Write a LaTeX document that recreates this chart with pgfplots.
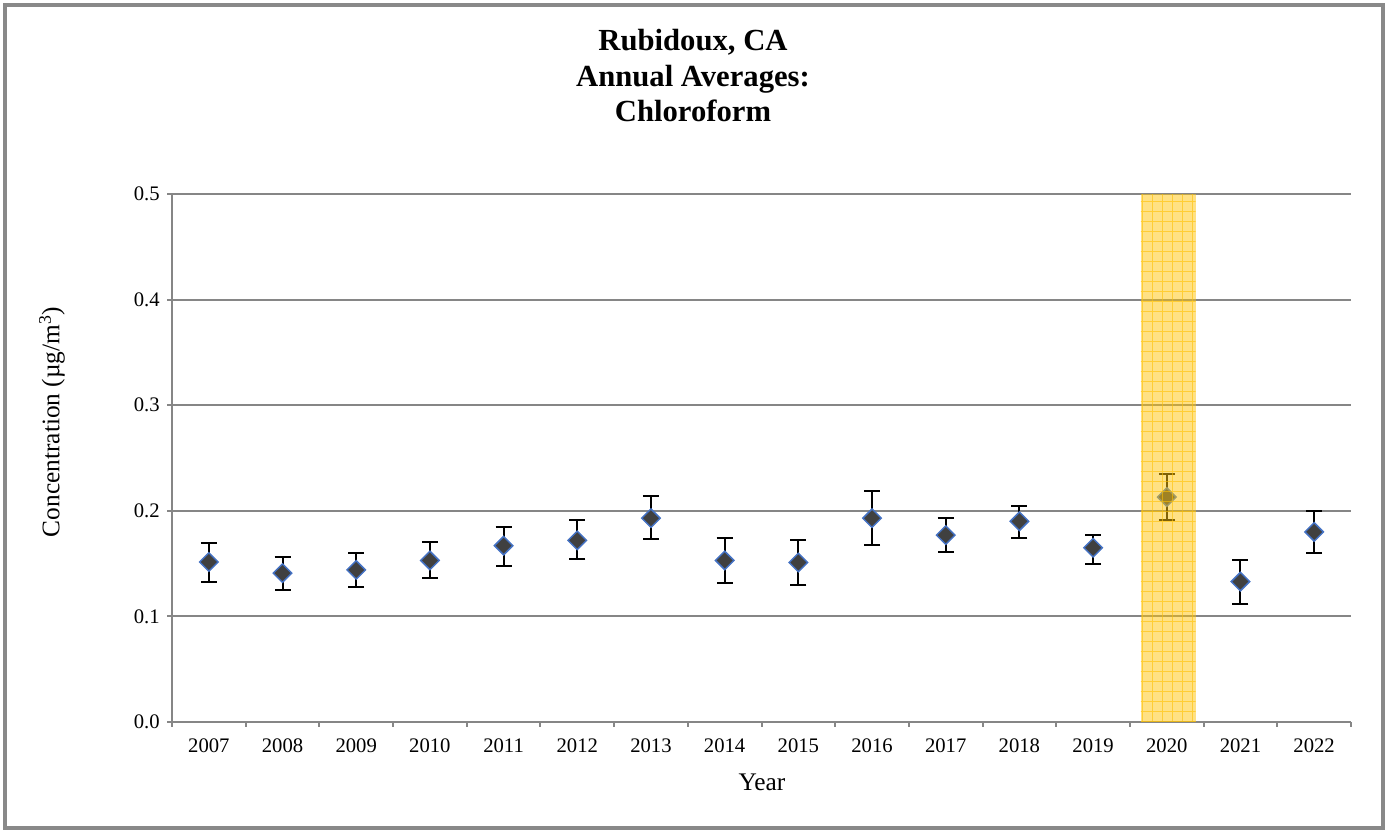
\documentclass[border=0pt]{standalone}
\usepackage{fontspec}
\setmainfont{Liberation Serif}
\usepackage{pgfplots}
\pgfplotsset{compat=1.18}
\usepackage{pgfplotstable}

\definecolor{axisgray}{RGB}{134,134,134}
\definecolor{markfill}{RGB}{64,64,64}
\definecolor{markedge}{RGB}{68,114,196}
\definecolor{hlfill}{RGB}{255,196,10}
\definecolor{hlgrid}{RGB}{255,192,0}
\definecolor{framegray}{RGB}{137,137,137}

% annual mean and the upper/lower error extents (ug/m3)
\pgfplotstableread{
x  y      ep     em
0  0.1515 0.0180 0.0189
1  0.141  0.015  0.016
2  0.144  0.016  0.016
3  0.153  0.017  0.017
4  0.167  0.018  0.019
5  0.172  0.019  0.018
6  0.193  0.021  0.020
7  0.153  0.021  0.021
8  0.151  0.021  0.021
9  0.193  0.026  0.025
10 0.177  0.016  0.016
11 0.190  0.015  0.016
12 0.165  0.012  0.015
13 0.213  0.022  0.022
14 0.133  0.020  0.021
15 0.180  0.020  0.020
}\chloroform

\begin{document}
\begin{tikzpicture}[x=0.75pt,y=0.75pt]
\useasboundingbox (0,0) rectangle (1386,830);
\draw[framegray, line width=3pt] (5,1.5) rectangle (1383,825);

\begin{axis}[
  at={(129pt,81pt)}, anchor=south west,
  scale only axis, width=884.25pt, height=396pt,
  xmin=-0.5, xmax=15.5, ymin=0, ymax=0.5,
  xtick={0,...,15},
  xticklabels={2007,2008,2009,2010,2011,2012,2013,2014,2015,2016,2017,2018,2019,2020,2021,2022},
  minor xtick={-0.5,0.5,...,15.5},
  ytick={0,0.1,...,0.5},
  y tick label style={/pgf/number format/fixed, /pgf/number format/fixed zerofill, /pgf/number format/precision=1},
  /pgf/number format/assume math mode=true,
  ticklabel style={font=\fontsize{15.5}{18}\selectfont},
  tick align=outside,
  major x tick style={draw=none},
  minor tick length=3.75pt,
  major tick length=3.75pt,
  tick style={axisgray, line width=1.5pt},
  axis x line*=bottom, axis y line*=left,
  axis line style={axisgray, line width=1.5pt, -},
  ymajorgrids, xmajorgrids=false,
  major grid style={axisgray, line width=1.5pt},
  x tick label style={yshift=-5pt},
  y tick label style={xshift=-2pt},
  clip=false,
  clip marker paths=true,
]
\addplot[
  only marks,
  mark=square*,
  mark size=4.9pt,
  mark options={rotate=45, fill=markfill, draw=markedge, line width=1.1pt},
  error bars/.cd,
    y dir=both, y explicit,
    error bar style={black, line width=1.5pt},
    error mark options={rotate=90, black, line width=1.5pt, mark size=6pt},
] table[x=x, y=y, y error plus=ep, y error minus=em] {\chloroform};

% highlighted year, laid over the series
\fill[hlfill, fill opacity=0.5] (axis cs:12.65,0) rectangle (axis cs:13.39,0.5);
\begin{scope}
  \clip (axis cs:12.65,0) rectangle (axis cs:13.39,0.5);
  \draw[hlgrid, draw opacity=0.6, line width=0.75pt, step=7.5pt]
    (axis cs:12.5,0) grid (axis cs:13.5,0.5);
\end{scope}
\end{axis}

\node[font=\fontsize{23}{26.5}\selectfont\bfseries, align=center, anchor=north]
  at (693,805) {Rubidoux, CA\\Annual Averages:\\Chloroform};
\node[font=\fontsize{19}{22}\selectfont] at (762,48) {Year};
\node[font=\fontsize{19}{22}\selectfont, rotate=90] at (52,408) {Concentration (µg/m\textsuperscript{3})};
\end{tikzpicture}
\end{document}
